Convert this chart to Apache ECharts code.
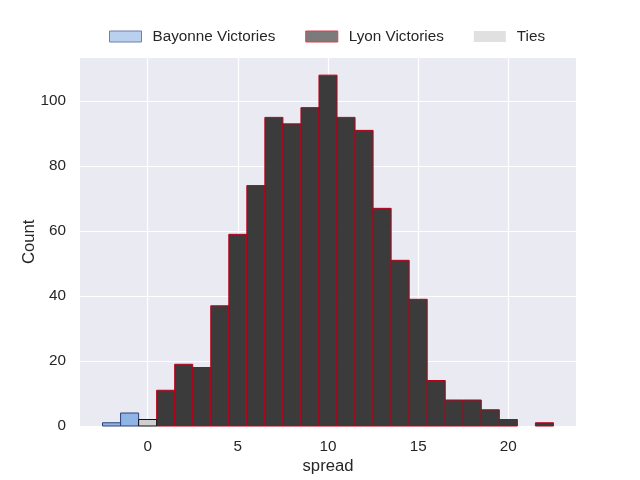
<!DOCTYPE html>
<html>
<head>
<meta charset="utf-8">
<script src="https://cdn.jsdelivr.net/npm/echarts@6/dist/echarts.min.js"></script>
<style>html,body{margin:0;padding:0;background:#fff;}#c{width:640px;height:480px;}</style>
</head>
<body>
<div id="c"></div>
<script>
const bayonneBins = [-2, -1];
const bayonneCounts = [1, 4];
const tieBins = [0];
const tieCounts = [2];
const lyonBins = [1, 2, 3, 4, 5, 6, 7, 8, 9, 10, 11, 12, 13, 14, 15, 16, 17, 18, 19, 20, 21, 22];
const lyonCounts = [11, 19, 18, 37, 59, 74, 95, 93, 98, 108, 95, 91, 67, 51, 39, 14, 8, 8, 5, 2, 0, 1];
const xTicks = [0, 5, 10, 15, 20];
const seriesNames = ['Bayonne Victories', 'Lyon Victories', 'Ties'];
const binWidth = 1;

const FONT = '"Liberation Sans", Arial, sans-serif';
const TXT = '#262626';
const TICK_FS = 15.28;
const LABEL_FS = 16.67;

function pairs(bins, counts) { return bins.map((b, i) => [b, counts[i]]); }

function makeRender(fill, stroke) {
  return function (params, api) {
    const x = api.value(0), y = api.value(1);
    if (!y) return null;
    const p0 = api.coord([x - binWidth / 2, 0]);
    const p1 = api.coord([x + binWidth / 2, y]);
    return {
      type: 'rect',
      shape: { x: p0[0], y: p1[1], width: p1[0] - p0[0], height: p0[1] - p1[1] },
      style: { fill: fill, stroke: stroke, lineWidth: 1 }
    };
  };
}

const chart = echarts.init(document.getElementById('c'), null, { renderer: 'canvas' });
chart.setOption({
  animation: false,
  textStyle: { fontFamily: FONT, color: TXT },
  grid: { left: 80, right: 64, top: 57.6, bottom: 52.8, show: true, backgroundColor: '#EAEAF2', borderWidth: 0 },
  legend: {
    top: 24, left: 104,
    itemWidth: 32, itemHeight: 11, itemGap: 30,
    icon: 'rect',
    textStyle: { fontFamily: FONT, fontSize: TICK_FS, color: TXT, padding: [0, 0, 0, 6] },
    data: [
      { name: seriesNames[0], itemStyle: { color: '#B9D0EE', borderColor: '#6F7FAE', borderWidth: 1 } },
      { name: seriesNames[1], itemStyle: { color: '#7B7B7B', borderColor: '#D9404F', borderWidth: 1 } },
      { name: seriesNames[2], itemStyle: { color: '#E0E0E0', borderWidth: 0 } }
    ]
  },
  xAxis: {
    type: 'value', min: -3.75, max: 23.75,
    name: 'spread', nameLocation: 'middle', nameGap: 32, nameMoveOverlap: false,
    nameTextStyle: { fontFamily: FONT, fontSize: LABEL_FS, color: TXT },
    axisLine: { show: false }, axisTick: { show: false, customValues: xTicks },
    axisLabel: { customValues: xTicks, fontFamily: FONT, fontSize: TICK_FS, color: TXT, margin: 13 },
    splitLine: { show: true, lineStyle: { color: '#FFFFFF', width: 1.2 } }
  },
  yAxis: {
    type: 'value', min: 0, max: 113.4, interval: 20,
    name: 'Count', nameLocation: 'middle', nameGap: 42, nameMoveOverlap: false,
    nameTextStyle: { fontFamily: FONT, fontSize: LABEL_FS, color: TXT },
    axisLine: { show: false }, axisTick: { show: false },
    axisLabel: { fontFamily: FONT, fontSize: TICK_FS, color: TXT, margin: 14, showMaxLabel: false },
    splitLine: { show: true, lineStyle: { color: '#FFFFFF', width: 1.2 } }
  },
  series: [
    { name: seriesNames[0], type: 'custom', renderItem: makeRender('#8FB5E6', '#2E3F78'), data: pairs(bayonneBins, bayonneCounts), encode: { x: 0, y: 1 }, z: 3 },
    { name: seriesNames[1], type: 'custom', renderItem: makeRender('rgba(45,45,45,0.93)', '#B8001A'), data: pairs(lyonBins, lyonCounts), encode: { x: 0, y: 1 }, z: 3 },
    { name: seriesNames[2], type: 'custom', renderItem: makeRender('#CFCFCF', '#111111'), data: pairs(tieBins, tieCounts), encode: { x: 0, y: 1 }, z: 3 }
  ]
});
</script>
</body>
</html>
